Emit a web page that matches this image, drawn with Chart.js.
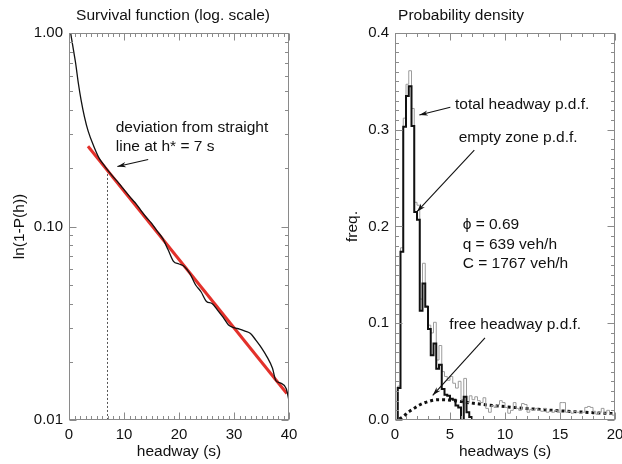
<!doctype html>
<html lang="en">
<head>
  <meta charset="utf-8">
  <title>headways</title>
  <style>
    body { margin: 0; background: #fff; overflow: hidden; }
    #wrap { position: relative; width: 622px; height: 464px; overflow: hidden; }
    canvas { position: absolute; top: 0; }
    #survival { left: 0; }
    #density { left: 311px; }
  </style>
</head>
<body>
<div id="wrap">
  <canvas id="survival" width="311" height="464"></canvas>
  <canvas id="density" width="330" height="464"></canvas>
</div>

<script src="https://cdn.jsdelivr.net/npm/chart.js@4.4.1/dist/chart.umd.min.js"></script>
<script>
// ---- survival function (left) ----
const survivalX = [0.3, 0.8, 1.2, 1.7, 2.2, 2.8, 3.5, 4.5, 5.5, 6.5, 7, 8, 9, 10, 11, 12, 13, 14, 15, 16,
  17, 18, 19, 20, 21, 22, 23, 24, 25, 26, 27, 28, 29, 30, 31, 32, 33, 34, 35, 36, 37, 37.6, 38.5, 39.5, 40];
const survivalY = [1.0, 0.82, 0.70, 0.55, 0.45, 0.37, 0.31, 0.26, 0.225, 0.205, 0.196, 0.181, 0.168, 0.155,
  0.143, 0.133, 0.122, 0.112, 0.104, 0.095, 0.087, 0.076, 0.066, 0.064, 0.062, 0.057, 0.050, 0.046, 0.041,
  0.040, 0.037, 0.034, 0.031, 0.030, 0.0295, 0.0288, 0.0280, 0.0258, 0.0236, 0.0212, 0.0185, 0.016, 0.0155,
  0.0145, 0.0126];
const fitX = [3.45, 39.6];
const fitY = [0.26, 0.0137];
const hStarX = [7, 7];
const hStarY = [0.196, 0.01];
const survivalTicks = [0.01, 0.1, 1];

// ---- probability density (right) ----
const binWidth = 0.25;
const totalPdf = [0, 0.035, 0.178, 0.312, 0.347, 0.361, 0.322, 0.225, 0.222, 0.125, 0.162, 0.118, 0.098,
  0.09, 0.101, 0.062, 0.077, 0.05, 0.045, 0.041, 0.045, 0.038, 0.033, 0.04, 0.021, 0.043, 0.018, 0.025,
  0.021, 0.024, 0.02, 0.018, 0.023, 0.012, 0.008, 0.015, 0.013, 0.016, 0.02, 0.018, 0.013, 0.007, 0.01,
  0.018, 0.012, 0.01, 0.017, 0.016, 0.008, 0.011, 0.01, 0.012, 0.01, 0.009, 0.012, 0.008, 0.009, 0.008,
  0.01, 0.008, 0.018, 0.018, 0.008, 0.009, 0.007, 0.009, 0.008, 0.007, 0.008, 0.013, 0.014, 0.013, 0.009,
  0.006, 0.008, 0.012, 0.007, 0.01, 0.006, 0.005];
const emptyZonePdf = [0, 0.033, 0.174, 0.303, 0.335, 0.345, 0.304, 0.215, 0.207, 0.113, 0.141, 0.117, 0.094,
  0.067, 0.079, 0.053, 0.057, 0.032, 0.026, 0.025, 0.022, 0.021, 0.015, 0.013, 0, 0.024, 0.008, 0.003, 0];
const freeX = [0.4, 0.8, 1.2, 1.6, 2.0, 2.5, 3.0, 3.5, 4.0, 4.5, 5.0, 6.0, 7.0, 8.0, 9.0, 10, 11, 12, 13, 14,
  15, 16, 17, 18, 19, 20];
const freeY = [0.001, 0.004, 0.008, 0.011, 0.014, 0.017, 0.019, 0.0205, 0.021, 0.021, 0.0205, 0.019, 0.0175,
  0.016, 0.0148, 0.0138, 0.0128, 0.0118, 0.011, 0.0102, 0.0095, 0.0088, 0.0082, 0.0076, 0.007, 0.0065];
const densityXMax = 20;

const FONT = "'Liberation Sans', Helvetica, Arial, sans-serif";
Chart.defaults.font.family = FONT;
Chart.defaults.font.size = 15;
Chart.defaults.color = '#111';

function pts(xs, ys) { return xs.map((x, i) => ({x: x, y: ys[i]})); }

function histPoints(vals) {
  let p = vals.map((v, i) => ({x: i * binWidth, y: v}));
  p.push({x: densityXMax, y: vals[vals.length - 1]});
  return p;
}

// box with inward ticks on all four sides, plus title and notes
const framePlugin = {
  id: 'frame',
  afterDatasetsDraw(chart, args, o) {
    const {ctx, chartArea: a, scales} = chart;
    const xs = scales.x, ys = scales.y;
    ctx.save();
    ctx.strokeStyle = '#8a8a8a';
    ctx.lineWidth = 1;
    const L = Math.round(a.left) + 0.5, R = Math.round(a.right) - 0.5;
    const T = Math.round(a.top) + 0.5, B = Math.round(a.bottom) - 0.5;
    ctx.strokeRect(L, T, R - L, B - T);
    ctx.beginPath();
    for (let v = xs.min; v <= xs.max + 1e-9; v += o.xMinor) {
      const major = Math.abs(v / o.xMajor - Math.round(v / o.xMajor)) < 1e-6;
      const len = major ? 7 : 3.5;
      const px = Math.round(xs.getPixelForValue(v)) + 0.5;
      ctx.moveTo(px, B); ctx.lineTo(px, B - len);
      ctx.moveTo(px, T); ctx.lineTo(px, T + len);
    }
    let yv = [];
    if (o.log) {
      for (let d = -2; d <= 0; d++) {
        for (let k = 1; k <= 9; k++) {
          const v = k * Math.pow(10, d);
          if (v >= ys.min - 1e-9 && v <= ys.max + 1e-9) yv.push([v, k === 1]);
        }
      }
    } else {
      for (let v = ys.min; v <= ys.max + 1e-9; v += o.yMinor) {
        yv.push([v, Math.abs(v / o.yMajor - Math.round(v / o.yMajor)) < 1e-6]);
      }
    }
    yv.forEach(([v, major]) => {
      const len = major ? 7 : 3.5;
      const py = Math.round(ys.getPixelForValue(v)) + 0.5;
      ctx.moveTo(L, py); ctx.lineTo(L + len, py);
      ctx.moveTo(R, py); ctx.lineTo(R - len, py);
    });
    ctx.stroke();
    ctx.restore();
  },
  afterDraw(chart, args, o) {
    const {ctx, scales: {x, y}} = chart;
    ctx.save();
    ctx.fillStyle = '#111';
    ctx.strokeStyle = '#111';
    ctx.font = '15.5px ' + FONT;
    ctx.textBaseline = 'middle';
    ctx.textAlign = 'center';
    ctx.fillText(o.title, o.titleX, 16);
    ctx.textAlign = 'left';
    (o.notes || []).forEach(n => {
      ctx.fillText(n.text, x.getPixelForValue(n.x), y.getPixelForValue(n.y));
    });
    ctx.lineWidth = 1.1;
    (o.arrows || []).forEach(ar => {
      const x1 = x.getPixelForValue(ar.from[0]), y1 = y.getPixelForValue(ar.from[1]);
      const x2 = x.getPixelForValue(ar.to[0]), y2 = y.getPixelForValue(ar.to[1]);
      const ang = Math.atan2(y2 - y1, x2 - x1);
      ctx.beginPath();
      ctx.moveTo(x1, y1); ctx.lineTo(x2, y2);
      ctx.stroke();
      ctx.beginPath();
      ctx.moveTo(x2, y2);
      ctx.lineTo(x2 - 9 * Math.cos(ang - 0.3), y2 - 9 * Math.sin(ang - 0.3));
      ctx.lineTo(x2 - 6 * Math.cos(ang), y2 - 6 * Math.sin(ang));
      ctx.lineTo(x2 - 9 * Math.cos(ang + 0.3), y2 - 9 * Math.sin(ang + 0.3));
      ctx.closePath();
      ctx.fill();
    });
    ctx.restore();
  }
};

function axisBase(extra) {
  return Object.assign({
    grid: {display: false, drawTicks: false},
    border: {display: false},
  }, extra);
}

new Chart(document.getElementById('survival'), {
  type: 'line',
  data: {
    datasets: [
      {data: pts(survivalX, survivalY), borderColor: '#111', borderWidth: 1.3, pointRadius: 0,
        cubicInterpolationMode: 'monotone'},
      {data: pts(fitX, fitY), borderColor: '#e3312b', borderWidth: 3, pointRadius: 0},
      {data: pts(hStarX, hStarY), borderColor: '#555', borderWidth: 1, borderDash: [2, 2], pointRadius: 0},
    ]
  },
  options: {
    responsive: false,
    animation: false,
    layout: {padding: {top: 33, right: 22, left: 0, bottom: 0}},
    plugins: {
      legend: {display: false},
      tooltip: {enabled: false},
      frame: {
        title: 'Survival function (log. scale)', titleX: 173,
        xMinor: 1, xMajor: 10, log: true,
        notes: [
          {text: 'deviation from straight', x: 8.5, y: 0.323},
          {text: 'line at h* = 7 s', x: 8.5, y: 0.2575},
        ],
        arrows: [{from: [14.4, 0.222], to: [8.8, 0.204]}],
      },
    },
    scales: {
      x: axisBase({
        type: 'linear', min: 0, max: 40,
        ticks: {stepSize: 10, padding: 6, maxRotation: 0},
        title: {display: true, text: 'headway (s)', font: {size: 15.5}, padding: {top: 0, bottom: 3}},
        afterFit: s => { s.height = 44; },
      }),
      y: axisBase({
        type: 'logarithmic', min: 0.01, max: 1,
        ticks: {padding: 6, callback: v => Number(v).toFixed(2)},
        afterBuildTicks: s => { s.ticks = survivalTicks.map(v => ({value: v})); },
        title: {display: true, text: 'ln(1-P(h))', font: {size: 15.5}, padding: {top: 10, bottom: 0}},
        afterFit: s => { s.width = 69; },
      }),
    },
  },
  plugins: [framePlugin],
});

new Chart(document.getElementById('density'), {
  type: 'line',
  data: {
    datasets: [
      {data: histPoints(emptyZonePdf), borderColor: '#111', borderWidth: 2, pointRadius: 0, stepped: true},
      {data: histPoints(totalPdf), borderColor: '#9c9c9c', borderWidth: 1, pointRadius: 0, stepped: true},
      {data: pts(freeX, freeY), borderColor: '#111', borderWidth: 3, borderDash: [3, 3], pointRadius: 0,
        cubicInterpolationMode: 'monotone'},
    ]
  },
  options: {
    responsive: false,
    animation: false,
    layout: {padding: {top: 33, right: 26, left: 0, bottom: 0}},
    plugins: {
      legend: {display: false},
      tooltip: {enabled: false},
      frame: {
        title: 'Probability density', titleX: 150,
        xMinor: 1, xMajor: 5, yMinor: 0.01, yMajor: 0.1, log: false,
        notes: [
          {text: 'total headway p.d.f.', x: 5.45, y: 0.3256},
          {text: 'empty zone p.d.f.', x: 5.79, y: 0.2915},
          {text: 'ϕ = 0.69', x: 6.15, y: 0.2016},
          {text: 'q = 639 veh/h', x: 6.15, y: 0.1809},
          {text: 'C = 1767 veh/h', x: 6.15, y: 0.1612},
          {text: 'free headway p.d.f.', x: 4.94, y: 0.0982},
        ],
        arrows: [
          {from: [5.03, 0.3232], to: [2.21, 0.3152]},
          {from: [7.21, 0.279], to: [2.0, 0.2153]},
          {from: [8.18, 0.0848], to: [3.43, 0.0255]},
        ],
      },
    },
    scales: {
      x: axisBase({
        type: 'linear', min: 0, max: densityXMax,
        ticks: {stepSize: 5, padding: 6, maxRotation: 0},
        title: {display: true, text: 'headways (s)', font: {size: 15.5}, padding: {top: 0, bottom: 3}},
        afterFit: s => { s.height = 44; },
      }),
      y: axisBase({
        type: 'linear', min: 0, max: 0.4,
        ticks: {stepSize: 0.1, padding: 6, callback: v => Number(v).toFixed(1)},
        title: {display: true, text: 'freq.', font: {size: 15.5}, padding: {top: 32, bottom: 0}},
        afterFit: s => { s.width = 84; },
      }),
    },
  },
  plugins: [framePlugin],
});
</script>
</body>
</html>
